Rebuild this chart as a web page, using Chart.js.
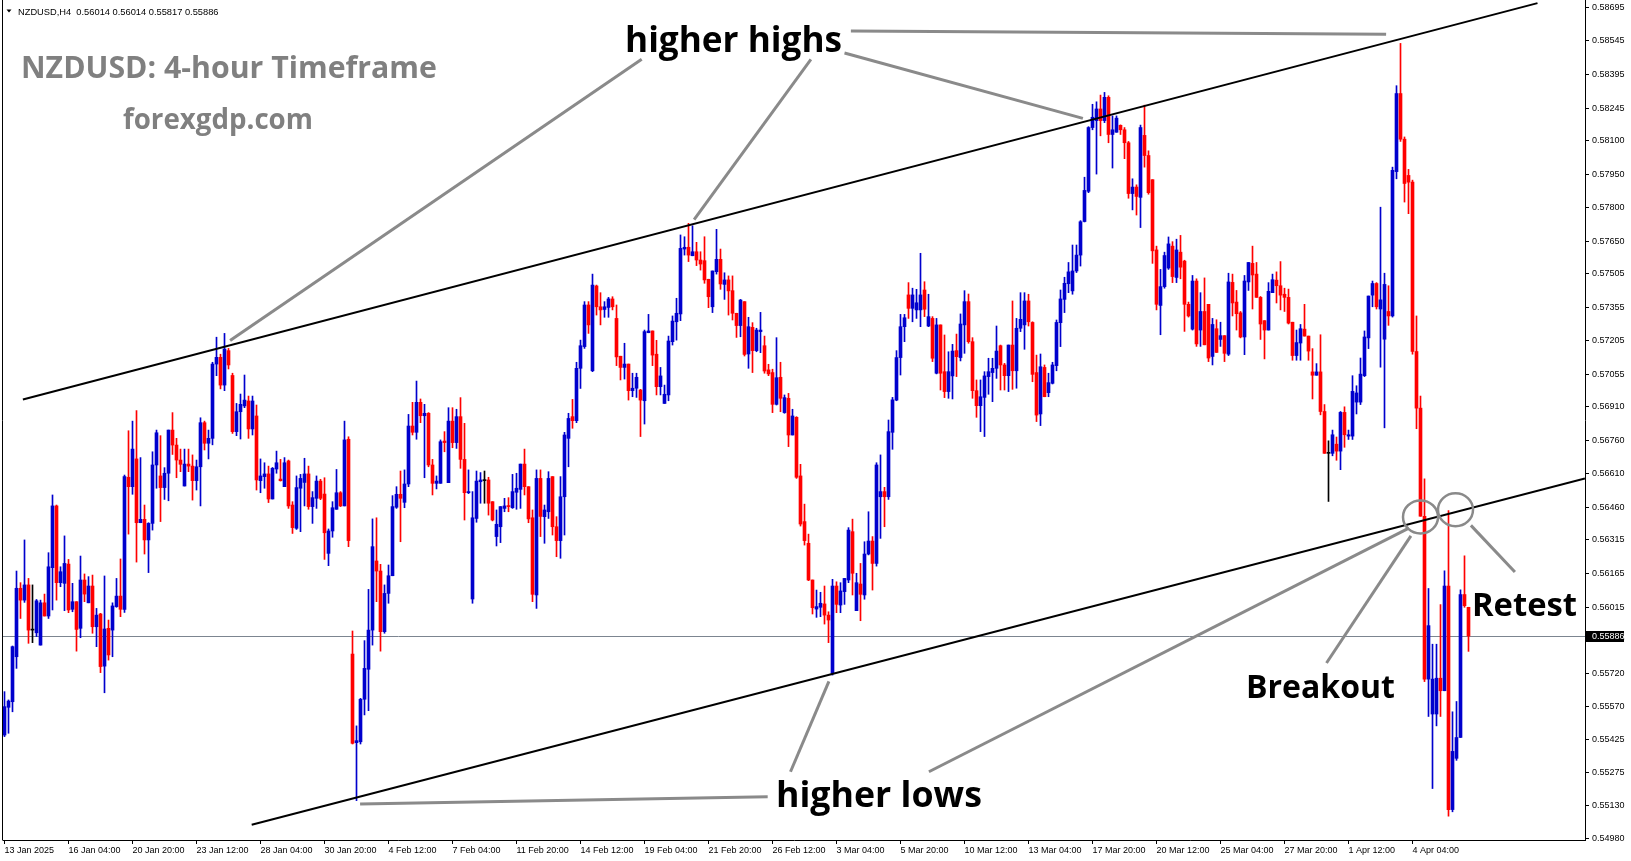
<!DOCTYPE html>
<html>
<head>
<meta charset="utf-8">
<title>NZDUSD H4</title>
<style>
html,body{margin:0;padding:0;background:#ffffff;overflow:hidden;}
#wrap{width:1631px;height:861px;position:relative;}
canvas{display:block;}
</style>
<script src="https://cdn.jsdelivr.net/npm/chart.js@4.4.1/dist/chart.umd.min.js"></script>
</head>
<body>
<div id="wrap"><canvas id="c" width="1631" height="861"></canvas></div>
<script>
// ---------------- DATA ----------------
const symbolTitle = "NZDUSD,H4";
const headerOHLC = "0.56014 0.56014 0.55817 0.55886";
const lastPrice = 0.55886;

const opens = [
0.55443,0.55567,0.55592,0.55793,0.56099,0.56046,0.56114,0.55912,0.55900,0.55845,
0.56034,0.55975,0.56191,0.56467,0.56124,0.56121,0.56207,0.56005,0.56039,0.55920,
0.56136,0.56034,0.56109,0.55927,0.55984,0.55751,0.55920,0.55912,0.56017,0.56064,
0.56005,0.56595,0.56553,0.56677,0.56392,0.56407,0.56315,0.56389,0.56650,0.56601,
0.56549,0.56613,0.56806,0.56739,0.56672,0.56556,0.56654,0.56645,0.56580,0.56642,
0.56839,0.56747,0.56769,0.57101,0.57131,0.57007,0.57161,0.57050,0.56799,0.56888,
0.56914,0.56936,0.56811,0.56869,0.56580,0.56598,0.56610,0.56498,0.56632,0.56587,
0.56553,0.56668,0.56471,0.56367,0.56546,0.56572,0.56610,0.56464,0.56501,0.56578,
0.56520,0.56255,0.56355,0.56452,0.56526,0.56467,0.56765,0.55805,0.55409,0.55413,
0.55603,0.55737,0.55912,0.56221,0.56176,0.55905,0.56076,0.56155,0.56461,0.56519,
0.56483,0.56565,0.56824,0.56796,0.56930,0.56870,0.56881,0.56650,0.56568,0.56568,
0.56757,0.56571,0.56846,0.56750,0.56866,0.56675,0.56526,0.56051,0.56411,0.56575,
0.56580,0.56583,0.56486,0.56330,0.56374,0.56456,0.56467,0.56459,0.56528,0.56541,
0.56654,0.56553,0.56414,0.56069,0.56590,0.56419,0.56441,0.56598,0.56374,0.56312,
0.56508,0.56769,0.56866,0.56848,0.57082,0.57179,0.57365,0.57071,0.57450,0.57357,
0.57345,0.57354,0.57392,0.57305,0.57136,0.57086,0.57101,0.56982,0.56993,0.56985,
0.56937,0.57241,0.57249,0.57145,0.57000,0.56925,0.56963,0.57201,0.57290,0.57325,
0.57615,0.57623,0.57585,0.57603,0.57566,0.57563,0.57480,0.57357,0.57514,0.57569,
0.57457,0.57477,0.57429,0.57328,0.57273,0.57380,0.57146,0.57265,0.57161,0.57246,
0.57183,0.57075,0.57063,0.56921,0.57042,0.56884,0.56948,0.56784,0.56863,0.56601,
0.56397,0.56300,0.56136,0.56006,0.56014,0.56029,0.55979,0.55719,0.56109,0.56024,
0.56084,0.56136,0.56352,0.55999,0.56118,0.56069,0.56252,0.56310,0.56210,0.56508,
0.56531,0.56508,0.56796,0.56940,0.57130,0.57268,0.57410,0.57350,0.57343,0.57343,
0.57432,0.57271,0.57305,0.57060,0.57276,0.57067,0.56978,0.57048,0.57161,0.57130,
0.57276,0.57380,0.57201,0.56982,0.56915,0.56952,0.57045,0.57063,0.57082,0.57183,
0.57097,0.57049,0.57186,0.57071,0.57261,0.57276,0.57383,0.57287,0.57063,0.56878,
0.57086,0.56973,0.57015,0.57094,0.57286,0.57390,0.57460,0.57428,0.57517,0.57588,
0.57738,0.57873,0.58158,0.58189,0.58241,0.58189,0.58293,0.58127,0.58137,0.58168,
0.58148,0.58090,0.57863,0.57892,0.57846,0.58123,0.58033,0.57925,0.57611,0.57363,
0.57447,0.57530,0.57628,0.57488,0.57601,0.57561,0.57368,0.57257,0.57472,0.57253,
0.57336,0.57368,0.57135,0.57259,0.57211,0.57228,0.57145,0.57466,0.57378,0.57330,
0.57222,0.57468,0.57551,0.57503,0.57399,0.57295,0.57253,0.57420,0.57476,0.57451,
0.57413,0.57399,0.57288,0.57139,0.57195,0.57257,0.57226,0.57066,0.57051,0.57066,
0.56889,0.56702,0.56702,0.56743,0.56712,0.56885,0.56779,0.56779,0.56931,0.56931,
0.57049,0.57218,0.57409,0.57461,0.57347,0.57212,0.57336,0.57316,0.57961,0.58310,
0.58106,0.57944,0.57914,0.57157,0.56904,0.56421,0.55693,0.55537,0.55537,0.55697,
0.55641,0.56109,0.55110,0.55339,0.55432,0.56071,0.56014
];

const highs = [
0.55637,0.55600,0.55841,0.56176,0.56124,0.56315,0.56143,0.56114,0.56049,0.56046,
0.56073,0.56258,0.56516,0.56471,0.56195,0.56333,0.56228,0.56121,0.56039,0.56243,
0.56163,0.56151,0.56158,0.56009,0.55987,0.56154,0.55957,0.56034,0.56143,0.56230,
0.56605,0.56803,0.56846,0.56893,0.56683,0.56471,0.56392,0.56709,0.56806,0.56781,
0.56638,0.56806,0.56884,0.56769,0.56721,0.56721,0.56721,0.56695,0.56672,0.56861,
0.56846,0.56806,0.57109,0.57221,0.57145,0.57238,0.57171,0.57060,0.56925,0.56967,
0.57052,0.56958,0.56958,0.56918,0.56677,0.56660,0.56645,0.56639,0.56712,0.56675,
0.56683,0.56672,0.56486,0.56601,0.56608,0.56680,0.56645,0.56531,0.56601,0.56586,
0.56593,0.56364,0.56486,0.56630,0.56531,0.56846,0.56776,0.55908,0.55484,0.55607,
0.55865,0.56094,0.56409,0.56414,0.56206,0.56114,0.56203,0.56513,0.56553,0.56623,
0.56628,0.56876,0.56930,0.57025,0.56945,0.56921,0.56884,0.56675,0.56601,0.56762,
0.56799,0.56906,0.56906,0.56899,0.56951,0.56836,0.56628,0.56531,0.56623,0.56616,
0.56623,0.56595,0.56486,0.56449,0.56464,0.56501,0.56504,0.56608,0.56613,0.56654,
0.56721,0.56553,0.56449,0.56628,0.56628,0.56471,0.56620,0.56598,0.56419,0.56598,
0.56796,0.56881,0.56943,0.57109,0.57208,0.57380,0.57380,0.57503,0.57454,0.57420,
0.57380,0.57399,0.57402,0.57365,0.57136,0.57194,0.57101,0.57060,0.57060,0.56988,
0.57253,0.57323,0.57249,0.57207,0.57086,0.57007,0.57226,0.57316,0.57395,0.57678,
0.57670,0.57730,0.57719,0.57645,0.57603,0.57670,0.57480,0.57517,0.57703,0.57615,
0.57509,0.57495,0.57495,0.57328,0.57390,0.57380,0.57310,0.57286,0.57261,0.57332,
0.57226,0.57100,0.57078,0.57219,0.57109,0.56963,0.56970,0.56899,0.56866,0.56653,
0.56475,0.56341,0.56136,0.56091,0.56081,0.56109,0.55994,0.56139,0.56128,0.56124,
0.56143,0.56370,0.56408,0.56166,0.56210,0.56307,0.56441,0.56330,0.56660,0.56695,
0.56550,0.56851,0.56952,0.57161,0.57323,0.57323,0.57465,0.57440,0.57435,0.57596,
0.57469,0.57413,0.57313,0.57305,0.57276,0.57231,0.57156,0.57189,0.57235,0.57325,
0.57429,0.57414,0.57219,0.57030,0.57030,0.57067,0.57127,0.57127,0.57271,0.57186,
0.57104,0.57186,0.57383,0.57305,0.57420,0.57420,0.57413,0.57290,0.57141,0.57146,
0.57097,0.57060,0.57109,0.57298,0.57432,0.57489,0.57555,0.57633,0.57633,0.57742,
0.57936,0.58162,0.58262,0.58273,0.58303,0.58315,0.58300,0.58210,0.58210,0.58170,
0.58158,0.58096,0.57929,0.57902,0.58169,0.58258,0.58054,0.57925,0.57628,0.57524,
0.57601,0.57669,0.57648,0.57659,0.57676,0.57565,0.57378,0.57497,0.57482,0.57420,
0.57486,0.57368,0.57305,0.57299,0.57288,0.57228,0.57507,0.57503,0.57430,0.57336,
0.57497,0.57555,0.57628,0.57555,0.57403,0.57295,0.57465,0.57503,0.57513,0.57559,
0.57440,0.57436,0.57288,0.57253,0.57278,0.57368,0.57226,0.57170,0.57103,0.57232,
0.56920,0.56758,0.56806,0.56775,0.56889,0.56910,0.56806,0.57049,0.57004,0.57128,
0.57249,0.57405,0.57472,0.57465,0.57802,0.57507,0.57451,0.57981,0.58345,0.58534,
0.58116,0.57971,0.57923,0.57316,0.56958,0.56588,0.56098,0.55849,0.55849,0.56026,
0.56177,0.56446,0.55547,0.55593,0.56092,0.56244,0.56014
];

const lows = [
0.55436,0.55451,0.55547,0.55741,0.55964,0.56036,0.55853,0.55856,0.55883,0.55845,
0.55975,0.55964,0.56002,0.56046,0.56106,0.55999,0.55990,0.55994,0.55818,0.55878,
0.56039,0.56034,0.55898,0.55838,0.55722,0.55632,0.55778,0.55793,0.56014,0.55972,
0.55991,0.56341,0.56519,0.56216,0.56392,0.56252,0.56169,0.56359,0.56546,0.56397,
0.56496,0.56490,0.56697,0.56593,0.56620,0.56556,0.56620,0.56493,0.56538,0.56467,
0.56717,0.56677,0.56740,0.57049,0.56990,0.56982,0.57079,0.56791,0.56781,0.56766,
0.56906,0.56769,0.56784,0.56538,0.56526,0.56546,0.56482,0.56498,0.56613,0.56578,
0.56553,0.56456,0.56344,0.56362,0.56352,0.56467,0.56452,0.56389,0.56456,0.56495,
0.56228,0.56200,0.56327,0.56452,0.56464,0.56467,0.56285,0.55403,0.55150,0.55403,
0.55533,0.55552,0.55845,0.56039,0.55818,0.55898,0.56032,0.56155,0.56456,0.56307,
0.56459,0.56553,0.56784,0.56765,0.56839,0.56593,0.56642,0.56516,0.56543,0.56568,
0.56709,0.56571,0.56727,0.56724,0.56635,0.56404,0.56522,0.56032,0.56394,0.56479,
0.56479,0.56426,0.56400,0.56288,0.56303,0.56441,0.56441,0.56456,0.56452,0.56456,
0.56516,0.56392,0.56039,0.56009,0.56330,0.56300,0.56411,0.56337,0.56240,0.56233,
0.56337,0.56642,0.56814,0.56839,0.56992,0.57171,0.57238,0.57067,0.57320,0.57276,
0.57310,0.57310,0.57343,0.57094,0.57030,0.57034,0.56940,0.56955,0.56952,0.56777,
0.56833,0.57241,0.57094,0.56963,0.56963,0.56925,0.56937,0.57186,0.57208,0.57295,
0.57588,0.57559,0.57585,0.57541,0.57521,0.57462,0.57353,0.57331,0.57503,0.57435,
0.57390,0.57320,0.57298,0.57220,0.57223,0.57137,0.57082,0.57063,0.57156,0.57152,
0.57060,0.57049,0.56884,0.56918,0.56888,0.56881,0.56732,0.56784,0.56590,0.56377,
0.56292,0.56133,0.55984,0.55969,0.55972,0.55939,0.55856,0.55711,0.55990,0.55990,
0.56027,0.56124,0.56069,0.55999,0.55954,0.56050,0.56248,0.56091,0.56198,0.56322,
0.56374,0.56496,0.56720,0.56937,0.57052,0.57201,0.57305,0.57290,0.57305,0.57268,
0.57313,0.57268,0.57112,0.57057,0.56985,0.56951,0.56948,0.56945,0.57045,0.57115,
0.57149,0.57194,0.56948,0.56863,0.56799,0.56777,0.56966,0.56933,0.57037,0.56985,
0.56985,0.56978,0.56988,0.56993,0.57246,0.57167,0.57271,0.57022,0.56844,0.56826,
0.56955,0.56955,0.57012,0.57071,0.57179,0.57331,0.57420,0.57413,0.57510,0.57539,
0.57736,0.57867,0.58148,0.57950,0.58121,0.58180,0.58090,0.57977,0.58137,0.58127,
0.58019,0.57842,0.57790,0.57767,0.57711,0.57981,0.57860,0.57551,0.57343,0.57232,
0.57440,0.57524,0.57465,0.57465,0.57482,0.57247,0.57311,0.57253,0.57180,0.57180,
0.57187,0.57112,0.57097,0.57153,0.57180,0.57112,0.57139,0.57316,0.57253,0.57218,
0.57143,0.57430,0.57347,0.57399,0.57211,0.57124,0.57253,0.57420,0.57374,0.57343,
0.57336,0.57280,0.57118,0.57118,0.57118,0.57226,0.57118,0.56945,0.57051,0.56874,
0.56702,0.56487,0.56691,0.56671,0.56629,0.56729,0.56764,0.56764,0.56878,0.56920,
0.57045,0.57170,0.57357,0.57347,0.57087,0.56816,0.57274,0.57311,0.57929,0.58096,
0.57825,0.57773,0.57145,0.56812,0.56421,0.55682,0.55526,0.55204,0.55484,0.55526,
0.55641,0.55080,0.55100,0.55330,0.55432,0.56014,0.55817
];

const closes = [
0.55570,0.55595,0.55838,0.56099,0.56046,0.56114,0.55912,0.55912,0.56043,0.56034,
0.55975,0.56195,0.56467,0.56124,0.56173,0.56210,0.56002,0.56039,0.55915,0.56136,
0.56073,0.56109,0.55927,0.55979,0.55749,0.55917,0.55801,0.56020,0.56064,0.56005,
0.56598,0.56553,0.56721,0.56392,0.56407,0.56315,0.56389,0.56650,0.56794,0.56549,
0.56613,0.56806,0.56739,0.56672,0.56653,0.56654,0.56645,0.56580,0.56642,0.56839,
0.56747,0.56769,0.57101,0.57131,0.57007,0.57168,0.57097,0.56799,0.56888,0.56921,
0.56940,0.56811,0.56936,0.56583,0.56601,0.56610,0.56498,0.56635,0.56660,0.56580,
0.56660,0.56467,0.56370,0.56549,0.56590,0.56610,0.56464,0.56504,0.56578,0.56501,
0.56347,0.56355,0.56459,0.56526,0.56467,0.56762,0.56312,0.55406,0.55418,0.55603,
0.55741,0.55912,0.56285,0.56176,0.55905,0.56076,0.56155,0.56464,0.56519,0.56501,
0.56565,0.56824,0.56796,0.56930,0.56870,0.56881,0.56650,0.56568,0.56578,0.56754,
0.56750,0.56846,0.56750,0.56866,0.56675,0.56526,0.56531,0.56414,0.56578,0.56583,
0.56580,0.56479,0.56404,0.56385,0.56464,0.56467,0.56464,0.56531,0.56546,0.56654,
0.56553,0.56409,0.56072,0.56590,0.56420,0.56449,0.56590,0.56374,0.56312,0.56508,
0.56784,0.56858,0.56848,0.57082,0.57183,0.57365,0.57276,0.57454,0.57357,0.57343,
0.57357,0.57392,0.57357,0.57133,0.57086,0.57101,0.56982,0.56993,0.57042,0.56940,
0.57246,0.57249,0.57141,0.57000,0.57048,0.56966,0.57204,0.57293,0.57328,0.57618,
0.57623,0.57588,0.57603,0.57566,0.57548,0.57477,0.57402,0.57517,0.57569,0.57459,
0.57477,0.57428,0.57328,0.57273,0.57387,0.57144,0.57268,0.57161,0.57253,0.57253,
0.57070,0.57057,0.56921,0.57040,0.56948,0.56951,0.56784,0.56869,0.56595,0.56386,
0.56312,0.56136,0.56012,0.56017,0.56032,0.55979,0.55957,0.56109,0.56027,0.56087,
0.56143,0.56359,0.56166,0.56124,0.56072,0.56252,0.56310,0.56210,0.56650,0.56531,
0.56508,0.56799,0.56941,0.57130,0.57268,0.57308,0.57350,0.57410,0.57375,0.57410,
0.57346,0.57313,0.57127,0.57276,0.57060,0.56978,0.57067,0.57159,0.57134,0.57280,
0.57380,0.57201,0.56982,0.56915,0.56955,0.57048,0.57067,0.57082,0.57159,0.57097,
0.57049,0.57186,0.57071,0.57261,0.57301,0.57383,0.57290,0.57055,0.56873,0.57089,
0.56955,0.57018,0.57097,0.57287,0.57392,0.57462,0.57513,0.57517,0.57588,0.57737,
0.57877,0.58158,0.58204,0.58241,0.58189,0.58293,0.58127,0.58148,0.58200,0.58148,
0.58090,0.57863,0.57892,0.57850,0.58158,0.58033,0.57867,0.57607,0.57368,0.57447,
0.57586,0.57638,0.57492,0.57611,0.57534,0.57368,0.57316,0.57472,0.57191,0.57336,
0.57187,0.57128,0.57278,0.57153,0.57228,0.57149,0.57468,0.57374,0.57326,0.57222,
0.57472,0.57555,0.57499,0.57399,0.57280,0.57253,0.57426,0.57478,0.57451,0.57409,
0.57399,0.57284,0.57139,0.57197,0.57259,0.57226,0.57159,0.57051,0.57066,0.56889,
0.56702,0.56702,0.56785,0.56712,0.56885,0.56785,0.56785,0.56979,0.56972,0.57056,
0.57222,0.57405,0.57461,0.57357,0.57388,0.57457,0.57316,0.57967,0.58310,0.58106,
0.57908,0.57914,0.57157,0.56904,0.56421,0.55693,0.55932,0.55693,0.55697,0.55641,
0.56109,0.55110,0.55370,0.55432,0.56071,0.56021,0.55886
];

// x-axis labels (one every 16 bars) and their bar indices
const xTickIndices = [0,16,32,48,64,80,96,112,128,144,160,176,192,208,224,240,256,272,288,304,320,336,352];
const xTickLabels = ['13 Jan 2025','16 Jan 04:00','20 Jan 20:00','23 Jan 12:00','28 Jan 04:00','30 Jan 20:00',
  '4 Feb 12:00','7 Feb 04:00','11 Feb 20:00','14 Feb 12:00','19 Feb 04:00','21 Feb 20:00','26 Feb 12:00',
  '3 Mar 04:00','5 Mar 20:00','10 Mar 12:00','13 Mar 04:00','17 Mar 20:00','20 Mar 12:00','25 Mar 04:00',
  '27 Mar 20:00','1 Apr 12:00','4 Apr 04:00'];

// price-axis tick labels
const yTickValues = [0.58695,0.58545,0.58395,0.58245,0.58100,0.57950,0.57800,0.57650,0.57505,0.57355,
  0.57205,0.57055,0.56910,0.56760,0.56610,0.56460,0.56315,0.56165,0.56015,0.55870,0.55720,0.55570,
  0.55425,0.55275,0.55130,0.54980];

// visible price window of the chart and visible bar window
const priceMin = 0.54974, priceMax = 0.58728;
const barMin = -0.375, barMax = 395.125;

// drawn objects, in (bar index, price) coordinates
const channelLines = [
  [4.6, 0.56943, 383.25, 0.58714],
  [61.8, 0.55042, 395.1, 0.56590]
];
const pointerLines = [
  [159.3, 0.58463, 56.4, 0.57206],
  [201.6, 0.58463, 172.4, 0.57747],
  [210.0, 0.58491, 269.6, 0.58199],
  [211.6, 0.58589, 345.4, 0.58575],
  [196.5, 0.55279, 206.1, 0.55683],
  [231.1, 0.55279, 351.1, 0.56368],
  [88.9, 0.55135, 190.8, 0.55167],
  [330.5, 0.55765, 351.6, 0.56333],
  [377.6, 0.56172, 366.6, 0.56380]
];
const circleMarks = [
  [354.0, 0.56418],
  [362.75, 0.56450]
];
const textMarks = [
  {text: 'higher highs', x: 182.25, y: 0.58496},
  {text: 'higher lows',  x: 218.6,  y: 0.55122},
  {text: 'Breakout',     x: 329.0,  y: 0.55609},
  {text: 'Retest',       x: 380.0,  y: 0.55977}
];
const titleText = 'NZDUSD: 4-hour Timeframe';
const siteText = 'forexgdp.com';

// ---------------- STYLE ----------------
const BLUE = '#0000cd', RED = '#ff0000', DOJI = '#000000';
const textWidths = {'higher highs': 217, 'higher lows': 206, 'Breakout': 149, 'Retest': 105};
const SMALL_FONT = '"Liberation Sans", Arial, sans-serif';
const BIG_FONT = '"Open Sans", "Noto Sans", sans-serif';

const idx = opens.map((_, i) => i);
const colors = idx.map(i => closes[i] > opens[i] ? BLUE : (closes[i] < opens[i] ? RED : DOJI));
const wickData = idx.map(i => ({x: i, y: [lows[i], highs[i]]}));
const bodyData = idx.map(i => ({x: i, y: [Math.min(opens[i], closes[i]), Math.max(opens[i], closes[i])]}));

function setFitFont(ctx, text, weight, family, targetW) {
  ctx.font = weight + ' 40px ' + family;
  const w = ctx.measureText(text).width;
  const size = 40 * targetW / w;
  ctx.font = weight + ' ' + size.toFixed(2) + 'px ' + family;
}

const overlay = {
  id: 'overlay',
  beforeDatasetsDraw(chart) {
    const {ctx, chartArea: a, scales: {y}} = chart;
    ctx.save();
    const yy = Math.round(y.getPixelForValue(lastPrice)) + 0.5;
    ctx.strokeStyle = '#7c8590';
    ctx.lineWidth = 1;
    ctx.beginPath(); ctx.moveTo(a.left, yy); ctx.lineTo(a.right, yy); ctx.stroke();
    ctx.restore();
  },
  afterDatasetsDraw(chart) {
    const {ctx, chartArea: a, scales: {x, y}} = chart;
    ctx.save();
    ctx.beginPath(); ctx.rect(a.left, a.top, a.right - a.left, a.bottom - a.top); ctx.clip();
    // channel lines
    ctx.strokeStyle = '#000000'; ctx.lineWidth = 2; ctx.lineCap = 'butt';
    channelLines.forEach(l => {
      ctx.beginPath();
      ctx.moveTo(x.getPixelForValue(l[0]), y.getPixelForValue(l[1]));
      ctx.lineTo(x.getPixelForValue(l[2]), y.getPixelForValue(l[3]));
      ctx.stroke();
    });
    // pointer lines
    ctx.strokeStyle = '#8a8a8a'; ctx.lineWidth = 3;
    pointerLines.forEach(l => {
      ctx.beginPath();
      ctx.moveTo(x.getPixelForValue(l[0]), y.getPixelForValue(l[1]));
      ctx.lineTo(x.getPixelForValue(l[2]), y.getPixelForValue(l[3]));
      ctx.stroke();
    });
    // circles
    ctx.lineWidth = 2.5;
    circleMarks.forEach(c => {
      ctx.beginPath();
      ctx.ellipse(x.getPixelForValue(c[0]), y.getPixelForValue(c[1]), 17.5, 16.5, 0, 0, Math.PI * 2);
      ctx.stroke();
    });
    // annotation texts
    ctx.fillStyle = '#000000';
    ctx.textAlign = 'center';
    ctx.textBaseline = 'alphabetic';
    textMarks.forEach(t => {
      setFitFont(ctx, t.text, 'bold', BIG_FONT, textWidths[t.text]);
      ctx.fillText(t.text, x.getPixelForValue(t.x), y.getPixelForValue(t.y));
    });
    // title and site
    ctx.fillStyle = '#808080';
    ctx.textAlign = 'left';
    setFitFont(ctx, titleText, 'bold', BIG_FONT, 416);
    ctx.fillText(titleText, 21, 77.5);
    setFitFont(ctx, siteText, 'bold', BIG_FONT, 190);
    ctx.fillText(siteText, 123, 128.5);
    ctx.restore();
  },
  afterDraw(chart) {
    const {ctx, chartArea: a, scales: {y}} = chart;
    ctx.save();
    // left frame line
    ctx.strokeStyle = '#000000'; ctx.lineWidth = 1;
    ctx.beginPath(); ctx.moveTo(2.5, 0); ctx.lineTo(2.5, a.bottom + 0.5); ctx.stroke();
    // header
    ctx.fillStyle = '#000000';
    ctx.beginPath(); ctx.moveTo(6.5, 9.5); ctx.lineTo(11.5, 9.5); ctx.lineTo(9, 12.5); ctx.closePath(); ctx.fill();
    ctx.font = '9.3px ' + SMALL_FONT;
    ctx.textAlign = 'left'; ctx.textBaseline = 'alphabetic';
    ctx.fillText(symbolTitle + '  ' + headerOHLC, 18, 14.5);
    // last price box on the axis
    const yy = Math.round(y.getPixelForValue(lastPrice));
    ctx.fillStyle = '#000000';
    ctx.fillRect(a.right + 1, yy - 5, 38, 11);
    ctx.fillStyle = '#ffffff';
    ctx.font = '9px ' + SMALL_FONT;
    ctx.textBaseline = 'middle';
    ctx.fillText(lastPrice.toFixed(5), a.right + 7, yy + 0.5);
    ctx.restore();
  }
};

Chart.defaults.font.family = SMALL_FONT;

new Chart(document.getElementById('c'), {
  type: 'bar',
  data: {
    datasets: [
      {label: 'wick', data: wickData, backgroundColor: colors, borderWidth: 0, barThickness: 1, minBarLength: 1, grouped: false, order: 2},
      {label: 'body', data: bodyData, backgroundColor: colors, borderWidth: 0, barThickness: 3, minBarLength: 1, grouped: false, order: 1}
    ]
  },
  options: {
    responsive: false,
    animation: false,
    devicePixelRatio: 1,
    events: [],
    layout: {autoPadding: false, padding: {left: 3, top: 0, right: 0, bottom: 0}},
    plugins: {legend: {display: false}, tooltip: {enabled: false}, title: {display: false}},
    scales: {
      x: {
        type: 'linear', position: 'bottom', min: barMin, max: barMax, offset: false,
        afterBuildTicks: s => { s.ticks = xTickIndices.map(v => ({value: v})); },
        afterFit: s => { s.height = 21; s.paddingLeft = 0; s.paddingRight = 0; s.paddingTop = 0; s.paddingBottom = 0; },
        ticks: {autoSkip: false, maxRotation: 0, minRotation: 0, align: 'start', padding: 1, color: '#000000',
                font: {size: 9, family: SMALL_FONT}, callback: (v, i) => xTickLabels[i]},
        grid: {display: true, offset: false, drawOnChartArea: false, drawTicks: true, tickLength: 4, color: '#000000', lineWidth: 1},
        border: {display: true, color: '#000000', width: 1}
      },
      y: {
        type: 'linear', position: 'right', min: priceMin, max: priceMax,
        afterBuildTicks: s => { s.ticks = yTickValues.map(v => ({value: v})); },
        afterFit: s => { s.width = 46; s.paddingTop = 0; s.paddingBottom = 0; s.paddingLeft = 0; s.paddingRight = 0; },
        ticks: {autoSkip: false, padding: 3, color: '#000000', font: {size: 9, family: SMALL_FONT},
                callback: v => Number(v).toFixed(5)},
        grid: {display: true, drawOnChartArea: false, drawTicks: true, tickLength: 4, color: '#000000', lineWidth: 1},
        border: {display: true, color: '#000000', width: 1}
      }
    }
  },
  plugins: [overlay]
});
</script>
</body>
</html>
